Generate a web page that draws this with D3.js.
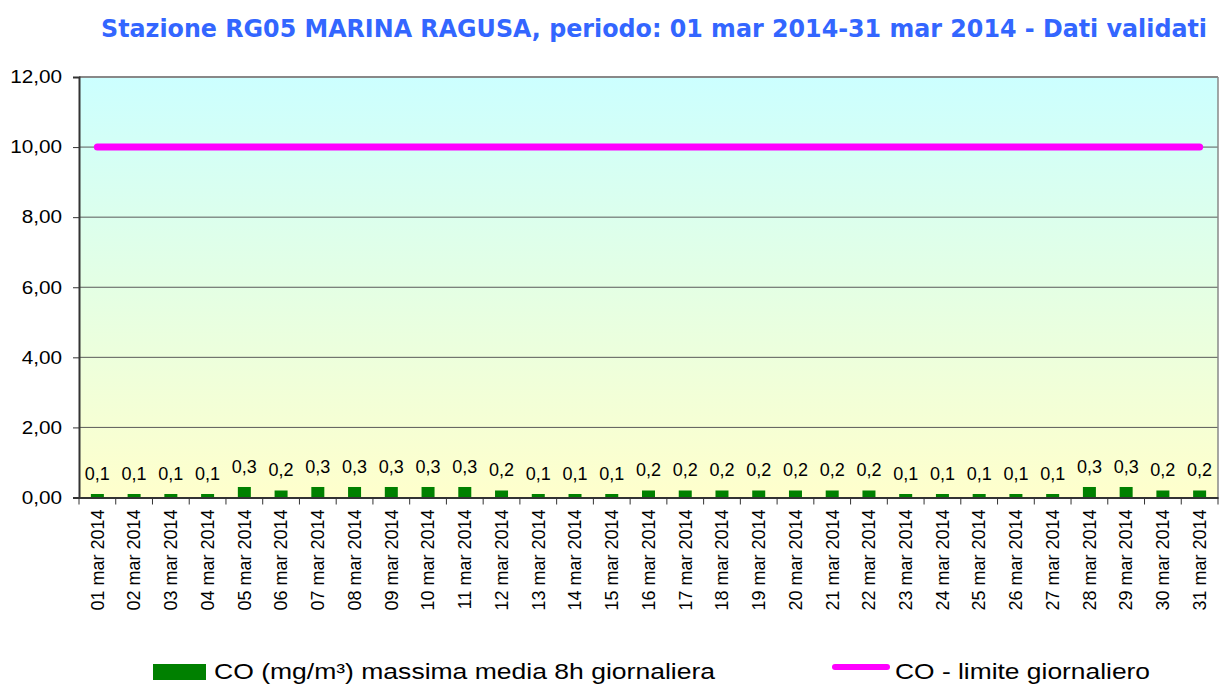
<!DOCTYPE html>
<html>
<head>
<meta charset="utf-8">
<script src="https://cdn.jsdelivr.net/npm/d3@7"></script>
<style>
  body { margin: 0; background: #fff; }
  svg { display: block; }
</style>
</head>
<body>
<div id="chart"></div>
<script>
//****data****
const days = ["01 mar 2014", "02 mar 2014", "03 mar 2014", "04 mar 2014", "05 mar 2014",
  "06 mar 2014", "07 mar 2014", "08 mar 2014", "09 mar 2014", "10 mar 2014",
  "11 mar 2014", "12 mar 2014", "13 mar 2014", "14 mar 2014", "15 mar 2014",
  "16 mar 2014", "17 mar 2014", "18 mar 2014", "19 mar 2014", "20 mar 2014",
  "21 mar 2014", "22 mar 2014", "23 mar 2014", "24 mar 2014", "25 mar 2014",
  "26 mar 2014", "27 mar 2014", "28 mar 2014", "29 mar 2014", "30 mar 2014",
  "31 mar 2014"];
const coValues = [0.1, 0.1, 0.1, 0.1, 0.3, 0.2, 0.3, 0.3, 0.3, 0.3, 0.3, 0.2, 0.1, 0.1, 0.1,
  0.2, 0.2, 0.2, 0.2, 0.2, 0.2, 0.2, 0.1, 0.1, 0.1, 0.1, 0.1, 0.3, 0.3, 0.2, 0.2];
const limitValues = days.map(() => 10);
const yTicks = [0, 2, 4, 6, 8, 10, 12];

const title = "Stazione RG05 MARINA RAGUSA, periodo: 01 mar 2014-31 mar 2014 - Dati validati";
const barLabel = "CO (mg/m³) massima media 8h giornaliera";
const lineLabel = "CO - limite giornaliero";

//****layout****
const w = 1219, h = 686;
const plotLeft = 79, plotRight = 1218, plotTop = 77, plotBottom = 497.5;
const barColor = "#008000";
const lineColor = "#FF00FF";
const font = "Liberation Sans, Arial, sans-serif";
const fmt = v => d3.format(".2f")(v).replace(".", ",");

const svg = d3.select("#chart").append("svg")
  .attr("width", w)
  .attr("height", h);

const x = d3.scaleBand().domain(days).range([plotLeft, plotRight]).paddingInner(0).paddingOuter(0);
const y = d3.scaleLinear().domain([0, 12]).range([plotBottom, plotTop]);

// background gradient
const grad = svg.append("defs").append("linearGradient")
  .attr("id", "bg").attr("x1", 0).attr("y1", 0).attr("x2", 0).attr("y2", 1);
grad.append("stop").attr("offset", "0%").attr("stop-color", "#CCFFFF");
grad.append("stop").attr("offset", "50%").attr("stop-color", "#E4FFE4");
grad.append("stop").attr("offset", "100%").attr("stop-color", "#FFFFCC");

svg.append("rect")
  .attr("x", plotLeft).attr("y", plotTop)
  .attr("width", plotRight - plotLeft).attr("height", plotBottom - plotTop)
  .attr("fill", "url(#bg)");

// grid lines
svg.append("g")
  .selectAll("line")
  .data(yTicks.filter(d => d > 0 && d < 12))
  .join("line")
  .attr("x1", plotLeft).attr("x2", plotRight)
  .attr("y1", d => y(d)).attr("y2", d => y(d))
  .attr("stroke", "#5a5a5a").attr("stroke-width", 1);

// plot border top/right
svg.append("line").attr("x1", plotLeft).attr("x2", plotRight).attr("y1", plotTop).attr("y2", plotTop)
  .attr("stroke", "#888").attr("stroke-width", 2);
svg.append("line").attr("x1", plotRight).attr("x2", plotRight).attr("y1", plotTop).attr("y2", plotBottom)
  .attr("stroke", "#888").attr("stroke-width", 1.5);

// bars
const barW = 13;
svg.append("g")
  .selectAll("rect")
  .data(coValues)
  .join("rect")
  .attr("x", (d, i) => x(days[i]) + x.bandwidth() / 2 - barW / 2)
  .attr("y", d => y(d))
  .attr("width", barW)
  .attr("height", d => y(0) - y(d))
  .attr("fill", barColor);

// bar labels
svg.append("g")
  .selectAll("text")
  .data(coValues)
  .join("text")
  .attr("x", (d, i) => x(days[i]) + x.bandwidth() / 2)
  .attr("y", d => y(d) - 14)
  .attr("text-anchor", "middle")
  .attr("font-family", font)
  .attr("font-size", 18)
  .attr("fill", "#000")
  .text(d => String(d).replace(".", ","));

// limit line
const line = d3.line()
  .x((d, i) => x(days[i]) + x.bandwidth() / 2)
  .y(d => y(d));
svg.append("path")
  .datum(limitValues)
  .attr("d", line)
  .attr("fill", "none")
  .attr("stroke", lineColor)
  .attr("stroke-width", 7)
  .attr("stroke-linecap", "round");

// y axis
const yAxis = svg.append("g")
  .attr("transform", `translate(${plotLeft},0)`)
  .call(d3.axisLeft(y).tickValues(yTicks).tickSize(6).tickPadding(11).tickFormat(fmt));
yAxis.select(".domain").attr("stroke", "#333").attr("stroke-width", 2);
yAxis.selectAll(".tick line").attr("stroke", "#333");
yAxis.selectAll("text")
  .attr("font-family", font)
  .attr("font-size", 18)
  .attr("fill", "#000")
  .each(function() {
    // labels in the picture are a bit wider than the font
    const len = this.getComputedTextLength();
    d3.select(this).attr("textLength", len * 1.15).attr("lengthAdjust", "spacingAndGlyphs");
  });

// x axis
const xAxis = svg.append("g")
  .attr("transform", `translate(0,${plotBottom})`)
  .call(d3.axisBottom(x).tickSize(0).tickSizeOuter(0));
xAxis.select(".domain").attr("stroke", "#333").attr("stroke-width", 2);
xAxis.selectAll("text")
  .attr("font-family", font)
  .attr("font-size", 18)
  .attr("fill", "#000")
  .attr("transform", "rotate(-90)")
  .attr("text-anchor", "end")
  .attr("x", -12)
  .attr("y", 0)
  .attr("dy", "0.35em");
// tick marks between categories
svg.append("g")
  .selectAll("line")
  .data(days.concat(["end"]))
  .join("line")
  .attr("x1", (d, i) => i < days.length ? x(d) : plotRight)
  .attr("x2", (d, i) => i < days.length ? x(d) : plotRight)
  .attr("y1", plotBottom).attr("y2", plotBottom + 7)
  .attr("stroke", "#333").attr("stroke-width", 1);

// title (condensed, taller glyphs as in the picture)
svg.append("text")
  .attr("transform", "translate(101,37) scale(1,1.28)")
  .attr("font-family", "DejaVu Sans, Verdana, sans-serif")
  .attr("font-weight", "bold")
  .attr("font-size", 20)
  .attr("fill", "#3366FF")
  .attr("textLength", 1106)
  .attr("lengthAdjust", "spacingAndGlyphs")
  .text(title);

// legend
const legend = svg.append("g");
legend.append("rect")
  .attr("x", 153).attr("y", 664).attr("width", 53).attr("height", 16)
  .attr("fill", barColor);
legend.append("text")
  .attr("x", 214).attr("y", 679)
  .attr("font-family", font)
  .attr("font-size", 22.5)
  .attr("fill", "#000")
  .attr("textLength", 501)
  .attr("lengthAdjust", "spacingAndGlyphs")
  .text(barLabel);
legend.append("line")
  .attr("x1", 835).attr("x2", 887).attr("y1", 667).attr("y2", 667)
  .attr("stroke", lineColor).attr("stroke-width", 6).attr("stroke-linecap", "round");
legend.append("text")
  .attr("x", 895).attr("y", 679)
  .attr("font-family", font)
  .attr("font-size", 22.5)
  .attr("fill", "#000")
  .attr("textLength", 255)
  .attr("lengthAdjust", "spacingAndGlyphs")
  .text(lineLabel);
</script>
</body>
</html>
